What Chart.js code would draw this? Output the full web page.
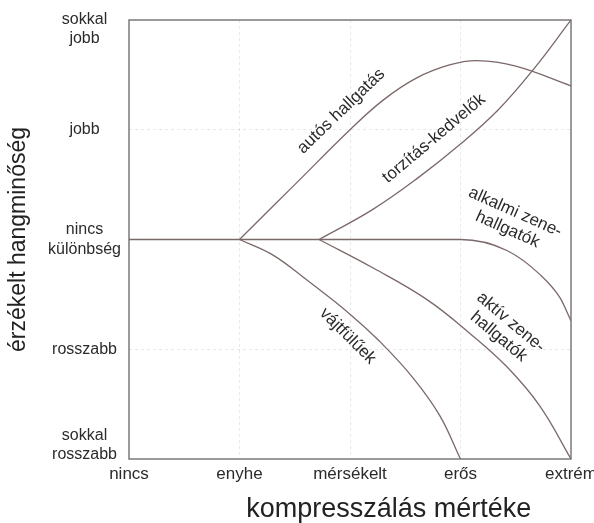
<!DOCTYPE html>
<html>
<head>
<meta charset="utf-8">
<script src="https://cdn.jsdelivr.net/npm/chart.js@4.4.1/dist/chart.umd.min.js"></script>
<style>
  html, body { margin: 0; padding: 0; background: #ffffff; }
  #wrap { width: 594px; height: 523px; position: relative; }
</style>
</head>
<body>
<div id="wrap"><canvas id="chart"></canvas></div>
<script>
// tengelyek
const xLabels = ['nincs', 'enyhe', 'mérsékelt', 'erős', 'extrém'];
const yLabels = [['sokkal', 'rosszabb'], 'rosszabb', ['nincs', 'különbség'], 'jobb', ['sokkal', 'jobb']];
const xTitle = 'kompresszálás mértéke';
const yTitle = 'érzékelt hangminőség';

// görbék (x: kompresszió 0..4, y: hangminőség -2..2)
const alkalmiX = [0, 1, 1.72, 3.0, 3.42, 3.72, 3.9, 4];
const alkalmiY = [0, 0, 0, 0, -0.1, -0.32, -0.53, -0.74];

const autosX = [1, 1.5, 2.0, 2.3, 2.6, 2.9, 3.15, 3.5, 4];
const autosY = [0, 0.5, 1.0, 1.27, 1.47, 1.59, 1.63, 1.58, 1.40];

const torzitasX = [1.72, 2.2, 2.6, 3.0, 3.34, 3.66, 4];
const torzitasY = [0, 0.27, 0.55, 0.87, 1.18, 1.55, 2];

const vajtfuluX = [1, 1.3, 1.61, 2.0, 2.27, 2.57, 2.81, 3.0];
const vajtfuluY = [0, -0.14, -0.37, -0.68, -0.93, -1.26, -1.6, -2];

const aktivX = [1.72, 2.21, 2.70, 3.09, 3.42, 3.72, 4];
const aktivY = [0, -0.26, -0.55, -0.86, -1.16, -1.52, -2];

const lineColor = '#7b6868';
const textColor = '#2b2b2b';
const fontFamily = '"Liberation Sans", Arial, sans-serif';

function points(xs, ys) {
    return xs.map((x, i) => ({ x: x, y: ys[i] }));
}

function series(xs, ys, mode) {
    return {
        data: points(xs, ys),
        borderColor: lineColor,
        borderWidth: 1.3,
        pointRadius: 0,
        fill: false,
        tension: 0.4,
        cubicInterpolationMode: mode || 'default'
    };
}

// feliratok a görbék mentén
const curveLabels = [
    { lines: ['autós hallgatás'], x: 1.92, y: 1.17, angle: -44 },
    { lines: ['torzítás-kedvelők'], x: 2.76, y: 0.92, angle: -40 },
    { lines: ['alkalmi zene-', 'hallgatók'], x: 3.46, y: 0.17, angle: 24 },
    { lines: ['vájtfülűek'], x: 1.98, y: -0.88, angle: 45 },
    { lines: ['aktív zene-', 'hallgatók'], x: 3.40, y: -0.82, angle: 40 }
];

const labelPlugin = {
    id: 'curveLabels',
    beforeDatasetsDraw(chart) {
        const { ctx, chartArea: a } = chart;
        ctx.save();
        ctx.strokeStyle = '#7a7a7a';
        ctx.lineWidth = 1.5;
        ctx.strokeRect(a.left, a.top, a.right - a.left, a.bottom - a.top);
        ctx.restore();
    },
    afterDatasetsDraw(chart) {
        const { ctx, scales } = chart;
        ctx.save();
        ctx.fillStyle = textColor;
        ctx.font = '17px ' + fontFamily;
        ctx.textAlign = 'center';
        ctx.textBaseline = 'middle';
        curveLabels.forEach(l => {
            const px = scales.x.getPixelForValue(l.x);
            const py = scales.y.getPixelForValue(l.y);
            ctx.save();
            ctx.translate(px, py);
            ctx.rotate(l.angle * Math.PI / 180);
            const lh = 19;
            const start = -(l.lines.length - 1) * lh / 2;
            l.lines.forEach((t, i) => ctx.fillText(t, 0, start + i * lh));
            ctx.restore();
        });
        // x tengely címe (az eredetin kissé jobbra tolva)
        ctx.fillStyle = '#222222';
        ctx.font = '27px ' + fontFamily;
        ctx.fillText(xTitle, scales.x.getPixelForValue(2.35), 510);
        ctx.restore();
    }
};

new Chart(document.getElementById('chart'), {
    type: 'line',
    data: {
        datasets: [
            series(alkalmiX, alkalmiY, 'monotone'),
            series(autosX, autosY),
            series(torzitasX, torzitasY),
            series(vajtfuluX, vajtfuluY),
            series(aktivX, aktivY)
        ]
    },
    options: {
        responsive: true,
        maintainAspectRatio: false,
        animation: false,
        layout: { padding: { top: 20, right: 0, bottom: 0, left: 0 } },
        plugins: {
            legend: { display: false },
            tooltip: { enabled: false }
        },
        scales: {
            x: {
                type: 'linear',
                min: 0,
                max: 4,
                afterBuildTicks: function(scale) {
                    scale.ticks = xLabels.map((_, i) => ({ value: i }));
                },
                afterFit: function(scale) {
                    scale.height = 64;
                    scale.paddingLeft = 0;
                    scale.paddingRight = 23;
                },
                border: { display: false, dash: [3, 3] },
                grid: {
                    drawTicks: false,
                    color: ctx => (ctx.tick && ctx.tick.value > 0 && ctx.tick.value < 4) ? 'rgba(0,0,0,0.09)' : 'rgba(0,0,0,0)'
                },
                ticks: {
                    autoSkip: false,
                    maxRotation: 0,
                    padding: 5,
                    color: textColor,
                    font: { family: fontFamily, size: 17 },
                    callback: value => xLabels[Math.round(value)]
                },
                title: { display: false }
            },
            y: {
                type: 'linear',
                min: -2,
                max: 2,
                afterBuildTicks: function(scale) {
                    // a szélső feliratok kissé beljebb ülnek
                    scale.ticks = [-1.87, -1, 0, 1, 1.92].map(v => ({ value: v }));
                },
                afterFit: function(scale) {
                    scale.width = 129;
                    scale.paddingTop = 0;
                    scale.paddingBottom = 0;
                },
                border: { display: false, dash: [3, 3] },
                grid: {
                    drawTicks: false,
                    color: ctx => (ctx.tick && (ctx.tick.value === 1 || ctx.tick.value === -1)) ? 'rgba(0,0,0,0.09)' : 'rgba(0,0,0,0)'
                },
                ticks: {
                    padding: 8,
                    crossAlign: 'center',
                    color: textColor,
                    font: { family: fontFamily, size: 16 },
                    callback: function(value, index) {
                        return yLabels[index];
                    }
                },
                title: {
                    display: true,
                    text: yTitle,
                    color: '#222222',
                    font: { family: fontFamily, size: 23 },
                    padding: { top: 5, bottom: 0 }
                }
            }
        }
    },
    plugins: [labelPlugin]
});
</script>
</body>
</html>
